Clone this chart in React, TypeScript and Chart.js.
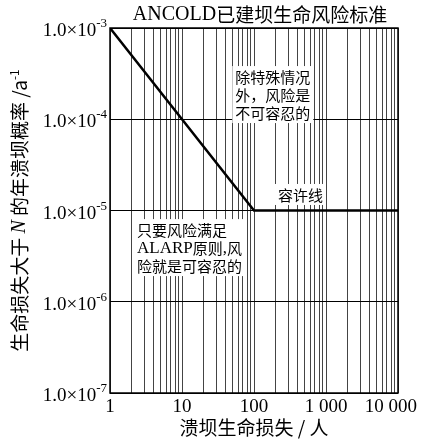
import React, { useEffect, useRef } from 'react';
import { Chart, registerables } from 'chart.js';

Chart.register(...registerables);

// ---- data ----
const lossOfLife = [1, 100, 10000];
const failureProbability = [1e-3, 1e-5, 1e-5];

const xTickValues = [1, 10, 100, 1000, 10000];
const xTickLabels = ['1', '10', '100', '1 000', '10 000'];
const xGridMultiples = [1, 2, 3, 4, 5, 6, 7, 8, 9];

const yTickValues = [1e-7, 1e-6, 1e-5, 1e-4, 1e-3];
const yTickMantissa = '1.0×10';
const yTickExponents = ['-7', '-6', '-5', '-4', '-3'];

const titleParts = ['ANCOLD', '已建坝生命风险标准'];
const xTitle = '溃坝生命损失 / 人';
const yTitleParts = ['生命损失大于 ', 'N', ' 的年溃坝概率 /a', '-1'];

const noteLines1 = ['除特殊情况', '外，风险是', '不可容忍的'];
const noteLines2 = ['容许线'];
const noteLines3 = ['只要风险满足', 'ALARP原则,风', '险就是可容忍的'];
// anchor of each note (left edge, centre of first line) in data units
const noteAnchorX = [55, 215, 2.37];
const noteAnchorY = [2.9e-4, 1.48e-5, 6.1e-6];

const SERIF = '"Liberation Serif", "Noto Sans CJK SC"';
const SANS = '"Noto Sans CJK SC", "Noto Sans"';

function splitRuns(text: string) {
  const runs: { t: string; latin: boolean }[] = [];
  const re = /[\x20-\x7E]+|[^\x20-\x7E]+/g;
  let m;
  while ((m = re.exec(text))) runs.push({ t: m[0], latin: /[\x20-\x7E]/.test(m[0][0]) });
  return runs;
}

function mixedWidth(ctx: CanvasRenderingContext2D, text: string) {
  let w = 0;
  splitRuns(text).forEach((r) => {
    ctx.font = r.latin ? `17px ${SERIF}` : `15px ${SANS}`;
    w += ctx.measureText(r.t).width;
  });
  return w;
}

function drawMixed(ctx: CanvasRenderingContext2D, text: string, x: number, y: number) {
  let cx = x;
  splitRuns(text).forEach((r) => {
    ctx.font = r.latin ? `17px ${SERIF}` : `15px ${SANS}`;
    ctx.fillText(r.t, cx, y);
    cx += ctx.measureText(r.t).width;
  });
}

const textPlugin = {
  id: 'textPlugin',
  afterDatasetsDraw(chart: any) {
    const ctx: CanvasRenderingContext2D = chart.ctx;
    const xs = chart.scales.x;
    const ys = chart.scales.y;
    const area = chart.chartArea;
    ctx.save();

    // border
    ctx.strokeStyle = '#000';
    ctx.lineWidth = 1.5;
    ctx.strokeRect(area.left, area.top, area.right - area.left, area.bottom - area.top);

    // notes
    const notes = [noteLines1, noteLines2, noteLines3];
    const lineH = 18;
    notes.forEach((lines, i) => {
      const px = xs.getPixelForValue(noteAnchorX[i]);
      const py = ys.getPixelForValue(noteAnchorY[i]);
      const w = Math.max(...lines.map((l) => mixedWidth(ctx, l)));
      ctx.fillStyle = '#fff';
      ctx.fillRect(px - 3, py - lineH / 2 - 2, w + 6, lineH * lines.length + 3);
      ctx.fillStyle = '#000';
      ctx.textAlign = 'left';
      ctx.textBaseline = 'middle';
      lines.forEach((l, j) => drawMixed(ctx, l, px, py + j * lineH));
    });

    // x tick labels
    ctx.fillStyle = '#000';
    ctx.font = `19px ${SERIF}`;
    ctx.textBaseline = 'middle';
    xTickValues.forEach((v, i) => {
      const px = xs.getPixelForValue(v);
      const w = ctx.measureText(xTickLabels[i]).width;
      let left = px - w / 2;
      if (left + w > chart.width - 4) left = chart.width - 4 - w;
      ctx.textAlign = 'left';
      ctx.fillText(xTickLabels[i], left, area.bottom + 14);
    });

    // y tick labels
    yTickValues.forEach((v, i) => {
      const py = ys.getPixelForValue(v);
      ctx.font = `13px ${SERIF}`;
      const supW = ctx.measureText(yTickExponents[i]).width;
      ctx.font = `19px ${SERIF}`;
      const mainW = ctx.measureText(yTickMantissa).width;
      const right = area.left - 3;
      ctx.textAlign = 'left';
      ctx.textBaseline = 'alphabetic';
      ctx.fillText(yTickMantissa, right - supW - mainW, py + 8);
      ctx.font = `13px ${SERIF}`;
      ctx.fillText(yTickExponents[i], right - supW, py - 1);
    });

    // title
    ctx.textBaseline = 'middle';
    ctx.font = `20px ${SERIF}`;
    const tw0 = ctx.measureText(titleParts[0]).width;
    ctx.font = `19px ${SANS}`;
    const tw1 = ctx.measureText(titleParts[1]).width;
    const tcx = (area.left + area.right) / 2 + 6;
    const tx = tcx - (tw0 + tw1) / 2;
    ctx.font = `20px ${SERIF}`;
    ctx.fillText(titleParts[0], tx, 15);
    ctx.font = `19px ${SANS}`;
    ctx.fillText(titleParts[1], tx + tw0, 15);

    // x title
    ctx.font = `19px ${SANS}`;
    ctx.textAlign = 'center';
    ctx.fillText(xTitle, (area.left + area.right) / 2, area.bottom + 35);

    // y title (rotated)
    const fonts = [`19px ${SANS}`, `italic 20px ${SERIF}`, `19px ${SANS}`, `12px ${SANS}`];
    const widths = yTitleParts.map((t, i) => {
      ctx.font = fonts[i];
      return ctx.measureText(t).width;
    });
    const total = widths.reduce((a, b) => a + b, 0);
    ctx.translate(20, (area.top + area.bottom) / 2);
    ctx.rotate(-Math.PI / 2);
    ctx.textAlign = 'left';
    let cx = -total / 2;
    yTitleParts.forEach((t, i) => {
      ctx.font = fonts[i];
      ctx.fillText(t, cx, i === 3 ? -6 : 0);
      cx += widths[i];
    });

    ctx.restore();
  },
};

export default function App() {
  const ref = useRef<HTMLCanvasElement | null>(null);

  useEffect(() => {
    document.body.style.margin = '0';
    if (!ref.current) return;
    const xGrid: number[] = [];
    xTickValues.slice(0, -1).forEach((d) => xGridMultiples.forEach((m) => xGrid.push(d * m)));
    xGrid.push(xTickValues[xTickValues.length - 1]);

    const chart = new Chart(ref.current, {
      type: 'line',
      data: {
        datasets: [
          {
            data: lossOfLife.map((x, i) => ({ x, y: failureProbability[i] })),
            borderColor: '#000',
            borderWidth: 2.5,
            pointRadius: 0,
            fill: false,
          },
        ],
      },
      options: {
        animation: false,
        responsive: false,
        devicePixelRatio: 1,
        layout: { padding: { top: 28, right: 23, left: 0, bottom: 0 } },
        plugins: { legend: { display: false }, tooltip: { enabled: false }, title: { display: false } },
        scales: {
          x: {
            type: 'logarithmic',
            min: 1,
            max: 10000,
            ticks: { display: false },
            grid: { color: '#444', lineWidth: 1, drawTicks: false, tickLength: 0 },
            border: { display: false },
            afterBuildTicks: (s: any) => {
              s.ticks = xGrid.map((v) => ({ value: v }));
            },
            afterFit: (s: any) => {
              s.height = 48;
            },
          },
          y: {
            type: 'logarithmic',
            min: 1e-7,
            max: 1e-3,
            ticks: { display: false },
            grid: { color: '#000', lineWidth: 1, drawTicks: false, tickLength: 0 },
            border: { display: false },
            afterBuildTicks: (s: any) => {
              s.ticks = yTickValues.map((v) => ({ value: v }));
            },
            afterFit: (s: any) => {
              s.width = 110;
            },
          },
        },
      } as any,
      plugins: [textPlugin],
    });
    return () => chart.destroy();
  }, []);

  return (
    <div style={{ width: 421, height: 441, background: '#fff' }}>
      <canvas ref={ref} width={421} height={441} style={{ width: 421, height: 441 }} />
    </div>
  );
}
